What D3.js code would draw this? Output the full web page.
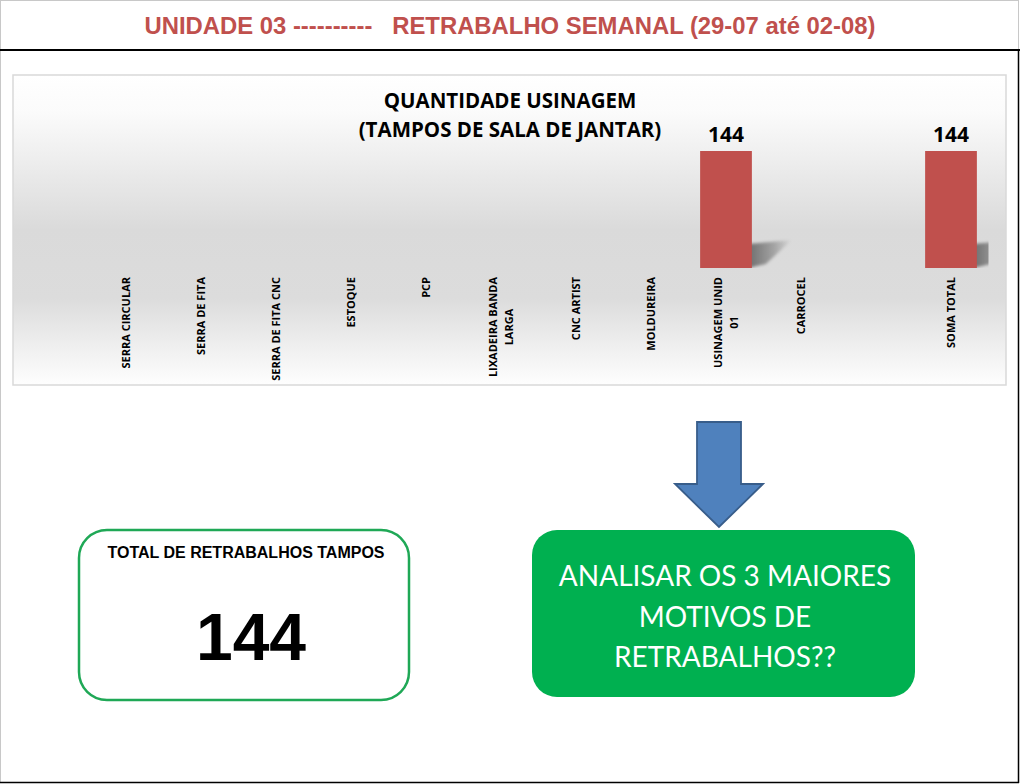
<!DOCTYPE html>
<html>
<head>
<meta charset="utf-8">
<script src="https://cdn.jsdelivr.net/npm/d3@7"></script>
<style>
html,body{margin:0;padding:0;background:#fff;}
svg{display:block;}
</style>
</head>
<body>
<svg id="c" width="1020" height="784"></svg>
<script>
// ---- data ----
const headerText = "UNIDADE 03 ----------   RETRABALHO SEMANAL (29-07 até 02-08)";
const chartTitle = ["QUANTIDADE USINAGEM", "(TAMPOS DE SALA DE JANTAR)"];
const categories = ["SERRA CIRCULAR","SERRA DE FITA","SERRA DE FITA CNC","ESTOQUE","PCP",
  "LIXADEIRA BANDA\nLARGA","CNC ARTIST","MOLDUREIRA","USINAGEM UNID\n01","CARROCEL"," ","SOMA TOTAL"];
const values = [0,0,0,0,0,0,0,0,144,0,0,144];
const yDomain = [0, 160];
const totalLabel = "TOTAL DE RETRABALHOS TAMPOS";
const totalValue = 144;
const actionLines = ["ANALISAR OS 3 MAIORES","MOTIVOS DE","RETRABALHOS??"];

const svg = d3.select("#c");
const defs = svg.append("defs");

// page frame
svg.append("rect").attr("x",0.5).attr("y",0.5).attr("width",1018).attr("height",782)
  .attr("fill","#fff").attr("stroke","#c8c8c8").attr("stroke-width",1);
svg.append("line").attr("x1",1018.5).attr("x2",1018.5).attr("y1",50).attr("y2",783)
  .attr("stroke","#000").attr("stroke-width",1.5);
svg.append("line").attr("x1",0).attr("x2",1019).attr("y1",782.5).attr("y2",782.5)
  .attr("stroke","#000").attr("stroke-width",1.5);
svg.append("line").attr("x1",0).attr("x2",1020).attr("y1",50).attr("y2",50)
  .attr("stroke","#000").attr("stroke-width",2);

// header
svg.append("text").attr("x",510).attr("y",34).attr("text-anchor","middle")
  .attr("font-family","'Liberation Sans Narrow','Arial Narrow','Liberation Sans',Arial,sans-serif")
  .attr("font-weight","bold").attr("font-size",23).attr("fill","#c0504d")
  .attr("textLength",731).attr("lengthAdjust","spacingAndGlyphs")
  .style("white-space","pre").text(headerText);

// chart box with gradient background
const bg = defs.append("linearGradient").attr("id","bg").attr("x1",0).attr("y1",0).attr("x2",0).attr("y2",1);
[[0,"#ffffff"],[0.12,"#fbfbfb"],[0.5,"#dadada"],[0.72,"#dcdcdc"],[1,"#fefefe"]]
  .forEach(s=>bg.append("stop").attr("offset",s[0]).attr("stop-color",s[1]));
svg.append("rect").attr("x",13).attr("y",75).attr("width",993).attr("height",310)
  .attr("fill","url(#bg)").attr("stroke","#d9d9d9").attr("stroke-width",1.5);

// title
const tt = svg.append("text").attr("text-anchor","middle")
  .attr("font-family","'Open Sans',sans-serif").attr("font-weight","bold").attr("font-size",20.5).attr("fill","#000");
chartTitle.forEach((t,i)=>tt.append("tspan").attr("x",510).attr("y",108+i*29).text(t));

// scales
const x = d3.scaleBand().domain(categories).range([88.5, 988.5]).paddingInner(0.31).paddingOuter(0.155);
const y = d3.scaleLinear().domain(yDomain).range([268, 138]);

// clip
defs.append("clipPath").attr("id","plotclip").append("rect")
  .attr("x",88.5).attr("y",75).attr("width",900).attr("height",193);

// shadow gradient + blur
const sg = defs.append("linearGradient").attr("id","sh").attr("x1",0).attr("y1",0).attr("x2",1).attr("y2",0);
sg.append("stop").attr("offset",0).attr("stop-color","#000").attr("stop-opacity",0.5);
sg.append("stop").attr("offset",0.6).attr("stop-color","#000").attr("stop-opacity",0.25);
sg.append("stop").attr("offset",1).attr("stop-color","#000").attr("stop-opacity",0);
defs.append("filter").attr("id","blur").attr("x","-20%").attr("y","-50%").attr("width","140%").attr("height","200%")
  .append("feGaussianBlur").attr("stdDeviation",1.8);

const data = categories.map((c,i)=>({c, v: values[i]}));
const plot = svg.append("g").attr("clip-path","url(#plotclip)");
plot.selectAll("path.sh").data(data.filter(d=>d.v>0)).join("path").attr("class","sh")
  .attr("d",d=>{
    const xr = x(d.c)+x.bandwidth(), b = y(0);
    return `M${xr-4},${b-24} L${xr+40},${b-28} L${xr+14},${b-4} L${xr-4},${b} Z`;
  }).attr("fill","url(#sh)").attr("filter","url(#blur)");

svg.selectAll("rect.bar").data(data).join("rect").attr("class","bar")
  .attr("x",d=>x(d.c)).attr("width",x.bandwidth())
  .attr("y",d=>y(d.v)).attr("height",d=>y(0)-y(d.v)).attr("fill","#c0504d");

svg.selectAll("text.val").data(data.filter(d=>d.v>0)).join("text").attr("class","val")
  .attr("x",d=>x(d.c)+x.bandwidth()/2).attr("y",d=>y(d.v)-9)
  .attr("text-anchor","middle").attr("font-family","'Open Sans',sans-serif")
  .attr("font-weight","bold").attr("font-size",21).attr("fill","#000").text(d=>d.v);

// category labels (rotated, top aligned, multi-line centered)
const lab = svg.selectAll("g.lab").data(data).join("g").attr("class","lab")
  .attr("transform",d=>`translate(${x(d.c)+x.bandwidth()/2},277) rotate(-90)`);
lab.each(function(d){
  const g = d3.select(this);
  const lines = d.c.split("\n");
  const n = lines.length;
  const t = g.append("text").attr("font-family","'Open Sans',sans-serif")
    .attr("font-weight","bold").attr("font-size",11).attr("fill","#000");
  const spans = lines.map((l,i)=>t.append("tspan").attr("x",0)
    .attr("y",(i-(n-1)/2)*16.5 + 4).text(l));
  const maxLen = d3.max(spans, s=>s.node().getComputedTextLength());
  spans.forEach(s=>s.attr("text-anchor","middle").attr("x",-maxLen/2));
});

// total box
svg.append("rect").attr("x",79).attr("y",530).attr("width",330).attr("height",170)
  .attr("rx",28).attr("fill","#fff").attr("stroke","#1fa856").attr("stroke-width",2.5);
svg.append("text").attr("x",246).attr("y",558).attr("text-anchor","middle")
  .attr("font-family","'Liberation Sans',Arial,sans-serif").attr("font-weight","bold")
  .attr("font-size",16).attr("fill","#000").text(totalLabel);
svg.append("text").attr("x",251).attr("y",660).attr("text-anchor","middle")
  .attr("font-family","'Liberation Sans',Arial,sans-serif").attr("font-weight","bold")
  .attr("font-size",66).attr("fill","#000").text(totalValue);

// arrow
const ax = 719;
svg.append("path").attr("d",`M${ax-22},422 L${ax+22},422 L${ax+22},484 L${ax+44},484 L${ax},527 L${ax-44},484 L${ax-22},484 Z`)
  .attr("fill","#4f81bd").attr("stroke","#385d8a").attr("stroke-width",1.8);

// action box
svg.append("rect").attr("x",532).attr("y",530).attr("width",383).attr("height",167)
  .attr("rx",25).attr("fill","#00b050");
const at = svg.append("text").attr("text-anchor","middle").attr("font-family","Lato,'Open Sans',sans-serif")
  .attr("font-size",28).attr("fill","#fff");
actionLines.forEach((l,i)=>at.append("tspan").attr("x",725).attr("y",586+i*40.5).text(l));
</script>
</body>
</html>
